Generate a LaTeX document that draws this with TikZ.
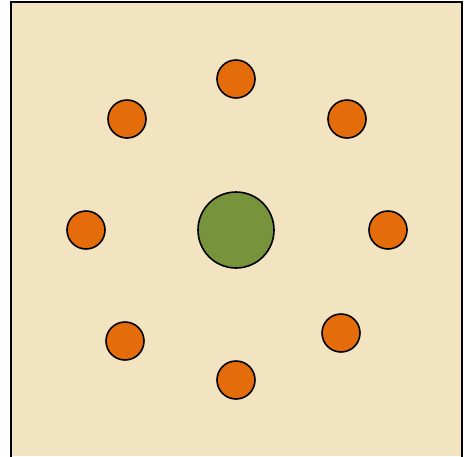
\documentclass[tikz,border=0pt]{standalone}
\definecolor{parch}{RGB}{242,228,192}
\definecolor{dotorange}{RGB}{228,108,10}
\definecolor{hubgreen}{RGB}{119,147,60}
\begin{document}
\begin{tikzpicture}[x=1pt,y=-1pt,
  sat/.style={circle,draw=black,line width=1.6pt,fill=dotorange,minimum size=38pt,inner sep=0pt},
  hub/.style={circle,draw=black,line width=1.6pt,fill=hubgreen,minimum size=76pt,inner sep=0pt}]
\useasboundingbox (0,0) rectangle (464,456);
\fill[white] (0,0) rectangle (464,456);
\fill[parch] (11,2) rectangle (462,456);
\draw[line width=2.2pt] (11,458) -- (11,2) -- (462,2) -- (462,458);
\node[hub] (c) at (236,230) {};
\node[sat] (n) at (236,79) {};
\node[sat] (ne) at (347,119) {};
\node[sat] (e) at (388,230) {};
\node[sat] (se) at (341,333) {};
\node[sat] (s) at (236,380) {};
\node[sat] (sw) at (125,341) {};
\node[sat] (w) at (86,230) {};
\node[sat] (nw) at (127,119) {};
\end{tikzpicture}
\end{document}
